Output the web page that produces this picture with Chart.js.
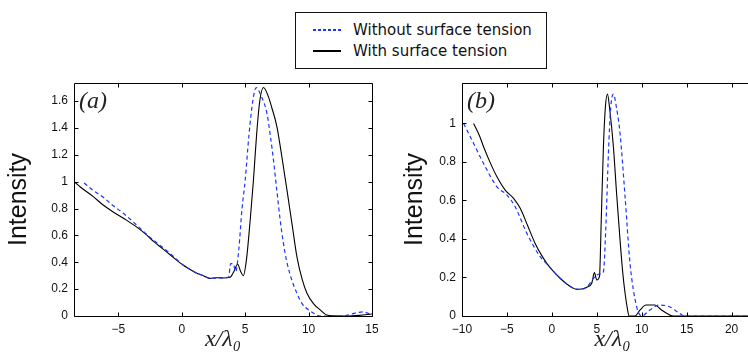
<!DOCTYPE html>
<html>
<head>
<meta charset="utf-8">
<script src="https://cdn.jsdelivr.net/npm/chart.js@4"></script>
<style>
  html, body { margin: 0; padding: 0; background: #fff; }
  body { width: 748px; height: 356px; overflow: hidden; position: relative; }
  canvas { position: absolute; top: 0; }
  #chartA { left: 0; }
  #chartB { left: 396px; }
  #legend {
    position: absolute; left: 295px; top: 12px; width: 250px; height: 55px;
    border: 1px solid #111; background: #fff;
    font-family: "DejaVu Sans", sans-serif; font-size: 15px; color: #111;
  }
  .row { position: absolute; left: 0; height: 20px; line-height: 20px; white-space: nowrap; }
  .sample { position: absolute; left: 17px; top: 9px; width: 28px; height: 1.5px; }
  .dotted { background: repeating-linear-gradient(to right, #1a35ff 0 3px, transparent 3px 5px); }
  .solid { background: #000; }
  .row span { position: absolute; left: 57px; top: 0; }
</style>
</head>
<body>
<canvas id="chartA" width="385" height="356"></canvas>
<canvas id="chartB" width="380" height="356"></canvas>
<div id="legend">
  <div class="row" style="top:7px"><div class="sample dotted"></div><span>Without surface tension</span></div>
  <div class="row" style="top:28px"><div class="sample solid"></div><span>With surface tension</span></div>
</div>
<script>
// panel (a)
const xA_with = [-8.5, -8.0, -7.0, -6.2, -5.5, -4.6, -3.6, -2.8, -2.2, -1.5, -0.9, 0.1, 0.6, 1.2, 1.7, 2.2, 2.8, 3.3, 3.8, 4.1, 4.4, 4.65, 4.85, 5.1, 5.4, 5.65, 5.9, 6.15, 6.44, 6.8, 7.1, 7.5, 7.9, 8.29, 8.7, 9.08, 9.5, 9.87, 10.4, 10.92, 11.44, 12, 13, 14, 15];
const yA_with = [1.0, 0.96, 0.89, 0.826, 0.78, 0.727, 0.665, 0.605, 0.553, 0.50, 0.454, 0.379, 0.35, 0.318, 0.30, 0.28, 0.285, 0.283, 0.288, 0.33, 0.385, 0.33, 0.30, 0.42, 0.72, 1.01, 1.35, 1.6, 1.70, 1.64, 1.55, 1.41, 1.18, 0.94, 0.68, 0.44, 0.27, 0.169, 0.09, 0.045, 0.007, 0.002, 0.0, 0.005, 0.015];
const xA_without = [-7.7, -7.0, -6.19, -5.4, -4.61, -3.56, -2.8, -2.24, -1.18, -0.5, 0.1, 0.6, 1.2, 1.7, 2.2, 2.8, 3.3, 3.7, 3.85, 4.05, 4.25, 4.5, 4.75, 5.0, 5.3, 5.6, 5.87, 6.2, 6.71, 7.0, 7.23, 7.5, 7.76, 8.0, 8.29, 8.7, 9.08, 9.5, 10.0, 10.5, 10.9, 12, 13, 13.8, 14.3, 14.7, 15];
const yA_without = [0.99, 0.935, 0.883, 0.82, 0.764, 0.677, 0.61, 0.565, 0.486, 0.43, 0.38, 0.35, 0.318, 0.30, 0.28, 0.283, 0.285, 0.29, 0.39, 0.39, 0.33, 0.50, 0.80, 1.01, 1.35, 1.6, 1.70, 1.65, 1.51, 1.33, 1.16, 0.93, 0.714, 0.55, 0.40, 0.26, 0.169, 0.09, 0.045, 0.015, 0.0, 0.0, 0.005, 0.025, 0.03, 0.02, 0.01];

// panel (b)
const xB_with = [-8.71, -8.0, -7.6, -6.8, -6.11, -5.19, -4.26, -3.52, -2.7, -1.86, -1.2, -0.56, 0.2, 0.92, 1.7, 2.4, 2.78, 3.3, 3.89, 4.44, 4.74, 5.0, 5.3, 5.5, 5.74, 5.95, 6.19, 6.45, 6.85, 7.2, 7.59, 7.9, 8.15, 8.4, 8.59, 9.26, 9.8, 10.48, 11.48, 12.1, 12.78, 13.5, 23.5];
const yB_with = [1.0, 0.93, 0.879, 0.79, 0.723, 0.654, 0.611, 0.559, 0.47, 0.377, 0.32, 0.273, 0.23, 0.196, 0.165, 0.144, 0.138, 0.14, 0.149, 0.17, 0.225, 0.187, 0.204, 0.5, 0.879, 1.08, 1.152, 1.07, 0.879, 0.64, 0.394, 0.22, 0.118, 0.04, 0.0, 0.0, 0.03, 0.057, 0.057, 0.035, 0.014, 0.0, 0.0];
const xB_without = [-9.82, -8.71, -7.6, -6.11, -5.0, -4.08, -2.78, -1.3, -0.56, 0.2, 0.92, 1.7, 2.4, 3.15, 3.9, 4.63, 5.0, 5.5, 5.74, 6.0, 6.3, 6.55, 6.85, 7.2, 7.59, 8.15, 8.7, 9.44, 10.0, 10.9, 12.0, 13.1, 14.2, 14.8, 23.5];
const yB_without = [1.0, 0.896, 0.792, 0.671, 0.628, 0.567, 0.429, 0.308, 0.27, 0.23, 0.196, 0.165, 0.144, 0.138, 0.15, 0.196, 0.213, 0.22, 0.23, 0.45, 0.85, 1.08, 1.152, 1.08, 0.948, 0.619, 0.273, 0.048, 0.0, 0.031, 0.057, 0.048, 0.014, 0.0, 0.0];

const xTickStep = 5;
const yTickStep = 0.2;

function pts(xs, ys) {
    return xs.map((x, i) => ({ x: x, y: ys[i] }));
}

// frame, inward ticks and panel label
const frameTicks = {
    id: 'frameTicks',
    afterDraw(chart, args, opts) {
        const { ctx, chartArea: a, scales: { x, y } } = chart;
        ctx.save();
        ctx.strokeStyle = '#000';
        ctx.lineWidth = 1;
        const L = Math.round(a.left) + 0.5, R = Math.round(a.right) + 0.5;
        const T = Math.round(a.top) + 0.5, B = Math.round(a.bottom) + 0.5;
        ctx.beginPath();
        ctx.moveTo(L, T); ctx.lineTo(R, T); ctx.lineTo(R, B); ctx.lineTo(L, B); ctx.closePath();
        x.ticks.forEach(t => {
            const px = Math.round(x.getPixelForValue(t.value)) + 0.5;
            ctx.moveTo(px, B); ctx.lineTo(px, B - 4);
            ctx.moveTo(px, T); ctx.lineTo(px, T + 4);
        });
        y.ticks.forEach(t => {
            const py = Math.round(y.getPixelForValue(t.value)) + 0.5;
            ctx.moveTo(L, py); ctx.lineTo(L + 4, py);
            ctx.moveTo(R, py); ctx.lineTo(R - 4, py);
        });
        ctx.stroke();
        ctx.fillStyle = '#222';
        ctx.font = 'italic 24px "Liberation Serif"';
        ctx.textBaseline = 'alphabetic';
        ctx.fillText(opts.label, a.left + 5, a.top + 25);
        ctx.restore();
    }
};

function makeChart(id, label, withPts, withoutPts, xMin, xMax, yMax, yWidth, padRight) {
    const ctx = document.getElementById(id).getContext('2d');
    return new Chart(ctx, {
        type: 'line',
        data: {
            datasets: [
                {
                    label: 'Without surface tension',
                    data: withoutPts,
                    borderColor: '#1a35ff',
                    borderWidth: 1.2,
                    borderDash: [4, 3],
                    pointRadius: 0,
                    cubicInterpolationMode: 'monotone'
                },
                {
                    label: 'With surface tension',
                    data: withPts,
                    borderColor: '#000',
                    borderWidth: 1.1,
                    pointRadius: 0,
                    cubicInterpolationMode: 'monotone'
                }
            ]
        },
        options: {
            responsive: false,
            animation: false,
            layout: { padding: { top: 83, right: padRight, left: 0, bottom: 0 } },
            plugins: {
                legend: { display: false },
                tooltip: { enabled: false },
                frameTicks: { label: label }
            },
            scales: {
                x: {
                    type: 'linear',
                    min: xMin,
                    max: xMax,
                    grid: { display: false, drawTicks: false },
                    border: { display: false },
                    ticks: {
                        stepSize: xTickStep,
                        includeBounds: false,
                        padding: 6,
                        color: '#111',
                        maxRotation: 0,
                        font: { family: 'Liberation Sans', size: 12 },
                        callback: v => (v < 0 ? '\u2212' + Math.abs(v) : '' + v)
                    },
                    title: {
                        display: true,
                        text: 'x/\u03bb\u2080',
                        color: '#222',
                        font: { family: 'Liberation Serif', size: 24, style: 'italic' },
                        padding: { top: 0, bottom: 2 }
                    },
                    afterFit: s => { s.height = 40; }
                },
                y: {
                    min: 0,
                    max: yMax,
                    grid: { display: false, drawTicks: false },
                    border: { display: false },
                    ticks: {
                        stepSize: yTickStep,
                        includeBounds: false,
                        padding: 6,
                        color: '#111',
                        font: { family: 'Liberation Sans', size: 12 },
                        callback: v => '' + parseFloat(v.toFixed(1))
                    },
                    title: {
                        display: true,
                        text: 'Intensity',
                        color: '#111',
                        font: { family: 'Liberation Sans', size: 25 }
                    },
                    afterBuildTicks: s => { s.ticks = s.ticks.filter(t => t.value <= yMax - 0.02); },
                    afterFit: s => { s.width = yWidth; }
                }
            }
        },
        plugins: [frameTicks]
    });
}

makeChart('chartA', '(a)', pts(xA_with, yA_with), pts(xA_without, yA_without), -8.5, 15, 1.734, 74, 13);
makeChart('chartB', '(b)', pts(xB_with, yB_with), pts(xB_without, yB_without), -10, 23.5, 1.21, 66, 13);
</script>
</body>
</html>
